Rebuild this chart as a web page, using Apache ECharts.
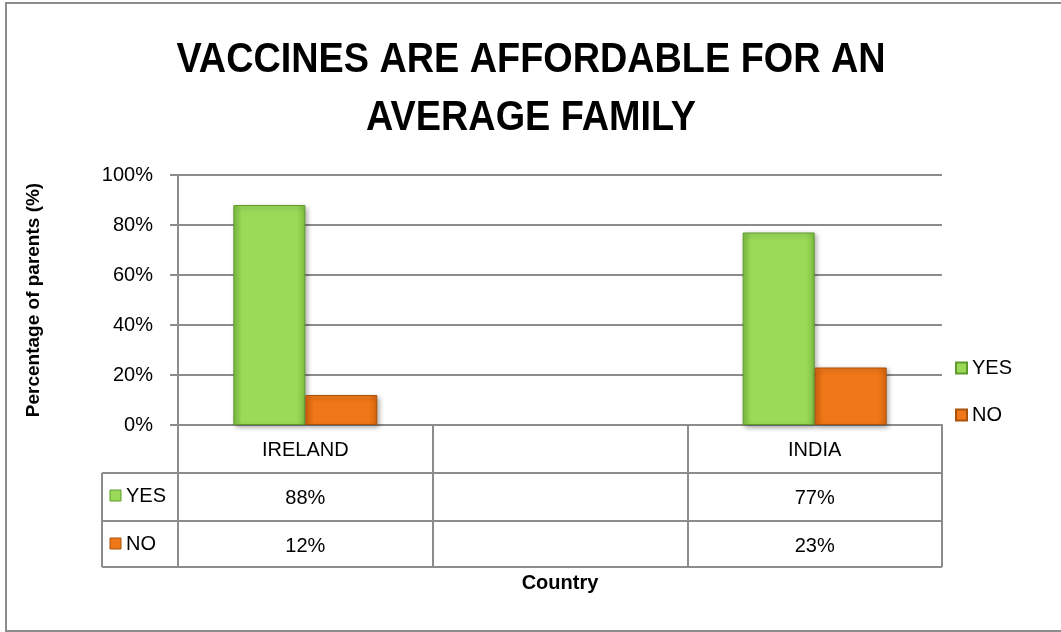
<!DOCTYPE html>
<html>
<head>
<meta charset="utf-8">
<script src="https://cdn.jsdelivr.net/npm/echarts@6/dist/echarts.min.js"></script>
<style>
html,body{margin:0;padding:0;background:#fff;}
#main{width:1061px;height:632px;}
</style>
</head>
<body>
<div id="main"></div>
<script>
// ---- data ----
var categories = ['IRELAND', '', 'INDIA'];
var seriesNames = ['YES', 'NO'];
var yesValues = [88, null, 77];
var noValues = [12, null, 23];
var yTicks = [0, 20, 40, 60, 80, 100];
var titleText = 'VACCINES ARE AFFORDABLE FOR AN\nAVERAGE FAMILY';
var yTitle = 'Percentage of parents (%)';
var xTitle = 'Country';

// ---- layout ----
var FONT = '"Liberation Sans", Arial, sans-serif';
var GRID_L = 178, GRID_R = 942, GRID_T = 175, GRID_B = 425;
var ROW_H = 48;
var LEFT_COL = 102;
var GREY = '#8c8c8c';
var colors = [
  {fill: '#9ADA58', border: '#5F9A2C', light: '#B8EC7E', dark: '#7FC040'},
  {fill: '#F07818', border: '#A8520C', light: '#F9A040', dark: '#D8640E'}
];

function fmt(v) { return v == null ? '' : v + '%'; }

var chart = echarts.init(document.getElementById('main'));

function barColor(c) {
  return new echarts.graphic.LinearGradient(0, 0, 1, 0, [
    {offset: 0, color: c.dark},
    {offset: 0.12, color: c.fill},
    {offset: 0.88, color: c.fill},
    {offset: 1, color: c.dark}
  ]);
}

var tableY1 = GRID_B + ROW_H, tableY2 = GRID_B + 2 * ROW_H, tableY3 = GRID_B + 3 * ROW_H - 2;

var graphics = [
  {type: 'rect', shape: {x: 6, y: 3, width: 1060, height: 628}, style: {fill: 'none', stroke: GREY, lineWidth: 2}, silent: true},
  {type: 'text', x: 531, y: 89, scaleX: 0.9, scaleY: 1.03, originX: 0, originY: 0,
    style: {text: titleText, font: 'bold 42px ' + FONT, lineHeight: 57, fill: '#000', align: 'center', verticalAlign: 'middle'}},
  {type: 'line', shape: {x1: LEFT_COL, y1: tableY1, x2: GRID_R, y2: tableY1}, style: {stroke: GREY, lineWidth: 2}},
  {type: 'line', shape: {x1: LEFT_COL, y1: tableY2, x2: GRID_R, y2: tableY2}, style: {stroke: GREY, lineWidth: 2}},
  {type: 'line', shape: {x1: LEFT_COL, y1: tableY3, x2: GRID_R, y2: tableY3}, style: {stroke: GREY, lineWidth: 2}},
  {type: 'line', shape: {x1: LEFT_COL, y1: tableY1, x2: LEFT_COL, y2: tableY3}, style: {stroke: GREY, lineWidth: 2}}
];
seriesNames.forEach(function (name, i) {
  var cy = GRID_B + ROW_H * (i + 1) + ROW_H / 2 - 1;
  graphics.push({type: 'rect', shape: {x: 110, y: cy - 6, width: 11, height: 11},
    style: {fill: colors[i].fill, stroke: colors[i].border, lineWidth: 1}});
  graphics.push({type: 'text', x: 126, y: cy, style: {text: name, font: '20px ' + FONT, fill: '#000', verticalAlign: 'middle', align: 'left'}});
});

var option = {
  animation: false,
  backgroundColor: '#fff',
  legend: {
    orient: 'vertical',
    left: 950,
    top: 353,
    itemWidth: 11,
    itemHeight: 11,
    itemGap: 27,
    icon: 'rect',
    data: seriesNames,
    textStyle: {fontFamily: FONT, fontSize: 20, color: '#000', padding: [0, 0, 0, 0]}
  },
  grid: {left: GRID_L, right: 1061 - GRID_R, top: GRID_T, bottom: 632 - GRID_B},
  xAxis: [
    {
      type: 'category', data: categories, position: 'bottom',
      axisLine: {show: true, lineStyle: {color: GREY, width: 2}},
      axisTick: {show: true, interval: 0, length: ROW_H * 3 - 2, lineStyle: {color: GREY, width: 2}},
      axisLabel: {interval: 0, margin: 15, fontFamily: FONT, fontSize: 20, color: '#000'}
    },
    {
      type: 'category', data: yesValues.map(fmt), position: 'bottom', offset: ROW_H,
      axisLine: {show: false}, axisTick: {show: false},
      axisLabel: {interval: 0, margin: 15, fontFamily: FONT, fontSize: 20, color: '#000'}
    },
    {
      type: 'category', data: noValues.map(fmt), position: 'bottom', offset: ROW_H * 2,
      axisLine: {show: false}, axisTick: {show: false},
      axisLabel: {interval: 0, margin: 15, fontFamily: FONT, fontSize: 20, color: '#000'},
      name: xTitle, nameLocation: 'middle', nameGap: 52,
      nameTextStyle: {fontFamily: FONT, fontSize: 20, fontWeight: 'bold', color: '#000'}
    }
  ],
  yAxis: {
    type: 'value', min: yTicks[0], max: yTicks[yTicks.length - 1], interval: yTicks[1] - yTicks[0],
    axisLine: {show: true, lineStyle: {color: GREY, width: 2}},
    axisTick: {show: true, length: 8, lineStyle: {color: GREY, width: 2}},
    splitLine: {show: true, lineStyle: {color: GREY, width: 2}},
    axisLabel: {formatter: '{value}%', margin: 25, fontFamily: FONT, fontSize: 20, color: '#000'},
    name: yTitle, nameLocation: 'middle', nameRotate: 90, nameGap: 135,
    nameTextStyle: {fontFamily: FONT, fontSize: 19, fontWeight: 'bold', color: '#000'}
  },
  series: [
    {
      name: seriesNames[0], type: 'bar', data: yesValues, barWidth: 72, barGap: '0%',
      itemStyle: {color: barColor(colors[0]), borderColor: colors[0].border, borderWidth: 1,
        shadowColor: 'rgba(0,0,0,0.35)', shadowBlur: 5, shadowOffsetX: 2, shadowOffsetY: 2}
    },
    {
      name: seriesNames[1], type: 'bar', data: noValues, barWidth: 72, barGap: '0%',
      itemStyle: {color: barColor(colors[1]), borderColor: colors[1].border, borderWidth: 1,
        shadowColor: 'rgba(0,0,0,0.35)', shadowBlur: 5, shadowOffsetX: 2, shadowOffsetY: 2}
    }
  ],
  graphic: graphics
};
chart.setOption(option);
</script>
</body>
</html>
